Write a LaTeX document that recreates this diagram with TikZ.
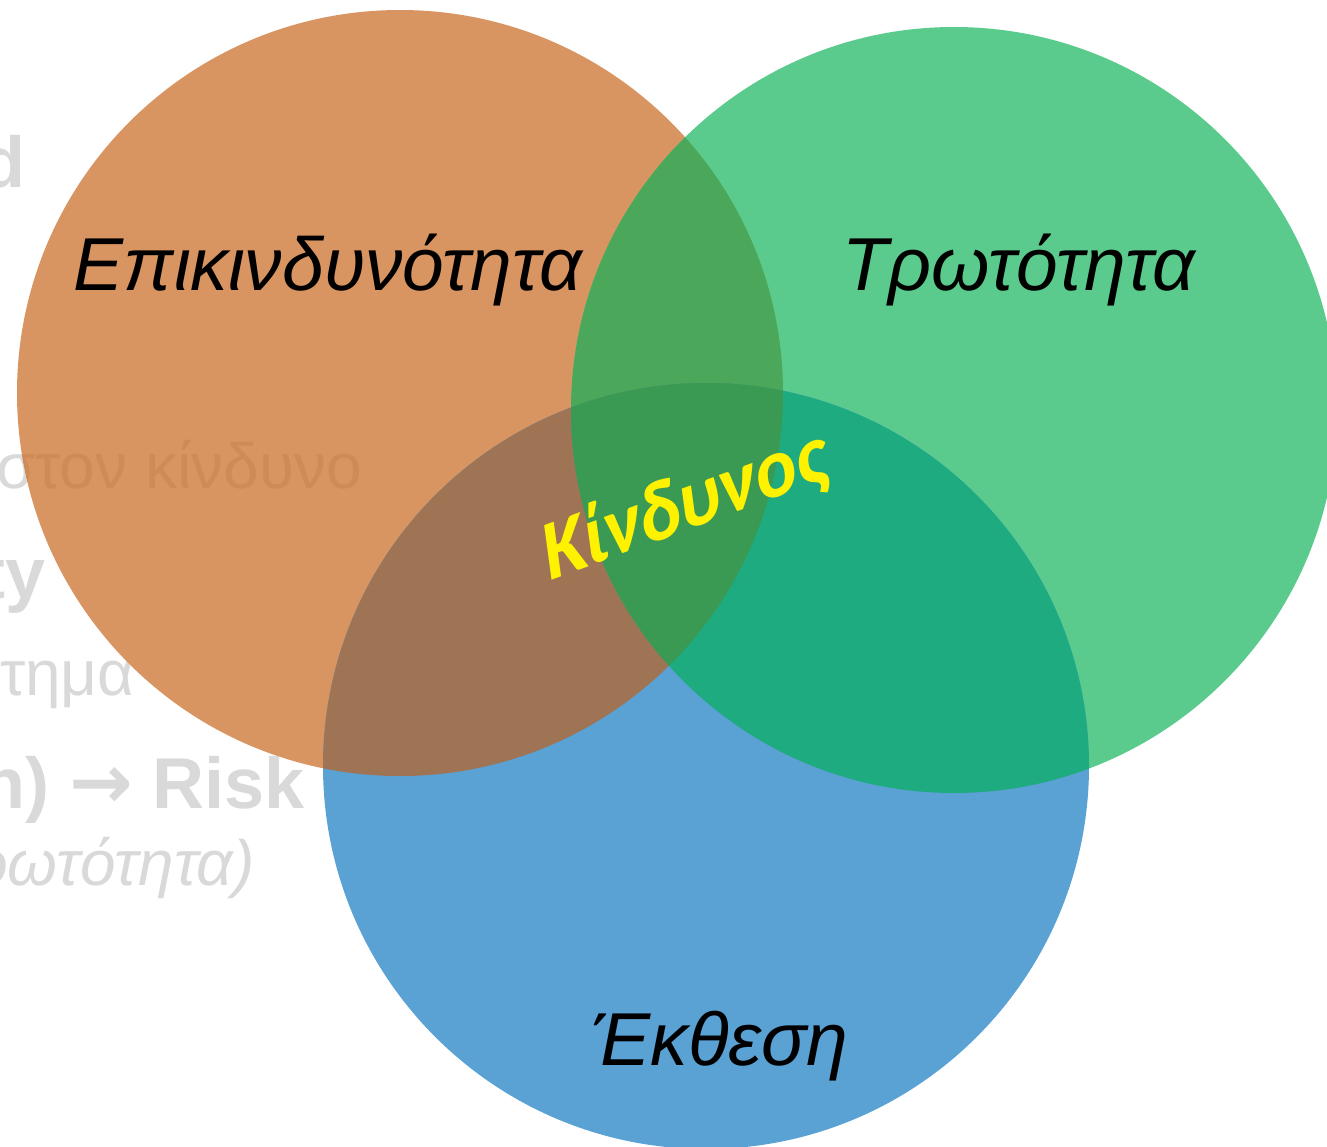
\documentclass[tikz,border=0pt]{standalone}
\usepackage{fontspec}
\setmainfont{Liberation Sans}
\newfontfamily\calibrifont{Carlito}
\newfontfamily\arrowfont{DejaVu Sans}
\usepackage{xcolor}
\usepackage{tikz}
\usetikzlibrary{positioning}

\definecolor{hazardorange}{RGB}{216,148,97}
\definecolor{vulngreen}{RGB}{90,203,141}
\definecolor{expoblue}{RGB}{90,161,212}
\definecolor{hvgreen}{RGB}{75,167,89}
\definecolor{hebrown}{RGB}{158,116,85}
\definecolor{veteal}{RGB}{31,171,128}
\definecolor{allgreen}{RGB}{58,153,82}
\definecolor{faintgrey}{RGB}{217,217,217}
\definecolor{faintorange}{RGB}{207,139,87}

\begin{document}
\begin{tikzpicture}[x=1pt, y=-1pt]
		\tikzstyle{setlabel}=[inner sep=0pt, anchor=base, font=\itshape\fontsize{75}{86}\selectfont, text=black]
		\tikzstyle{faintbold}=[inner sep=0pt, anchor=base east, font=\bfseries\fontsize{72}{80}\selectfont, text=faintgrey]
		\tikzstyle{faintplain}=[inner sep=0pt, anchor=base east, font=\fontsize{64}{72}\selectfont, text=faintgrey]
		
		\useasboundingbox (0,0) rectangle (1327,1146);
		
		% slide text left behind the sets
		\node (fd) [faintbold] at (26,187) {d};
		\node (fkin) [faintplain] at (362,488) {στον κίνδυνο};
		\node (fty) [faintbold] at (46,598) {ty};
		\node (fsys) [faintplain] at (135,695) {τημα};
		\node (frisk) [faintbold] at (305,808) {n) {\arrowfont\fontsize{76}{80}\selectfont →} Risk};
		\node (fvul) [faintplain, font=\itshape\fontsize{64}{72}\selectfont] at (255,885) {ρωτότητα)};
		
		% the three sets
		\coordinate (hz) at (400,393);
		\coordinate (vu) at (954,410);
		\coordinate (ex) at (706,766);
		
		\fill [hazardorange] (hz) circle [radius=383];
		\fill [vulngreen] (vu) circle [radius=383];
		\fill [expoblue] (ex) circle [radius=383];
		
		\begin{scope}
			\clip (hz) circle [radius=383];
			\fill [hvgreen] (vu) circle [radius=383];
			\fill [hebrown] (ex) circle [radius=383];
			\node (fkin2) [faintplain, text=faintorange] at (362,488) {στον κίνδυνο};
		\end{scope}
		\begin{scope}
			\clip (vu) circle [radius=383];
			\fill [veteal] (ex) circle [radius=383];
			\clip (hz) circle [radius=383];
			\fill [allgreen] (ex) circle [radius=383];
		\end{scope}
		
		\node (hazard) [setlabel] at (328,290) {Επικινδυνότητα};
		\node (vuln) [setlabel] at (1019,290) {Τρωτότητα};
		\node (expo) [setlabel] at (720,1065) {Έκθεση};
		
		% slanted word art in the middle
		\node (risk) [cm={0.92,0.335,-0.14,1.04,(0,0)}, inner sep=0pt, text=yellow, font=\calibrifont\bfseries\fontsize{81}{92}\selectfont] at (686,506) {Κίνδυνος};
\end{tikzpicture}
\end{document}
